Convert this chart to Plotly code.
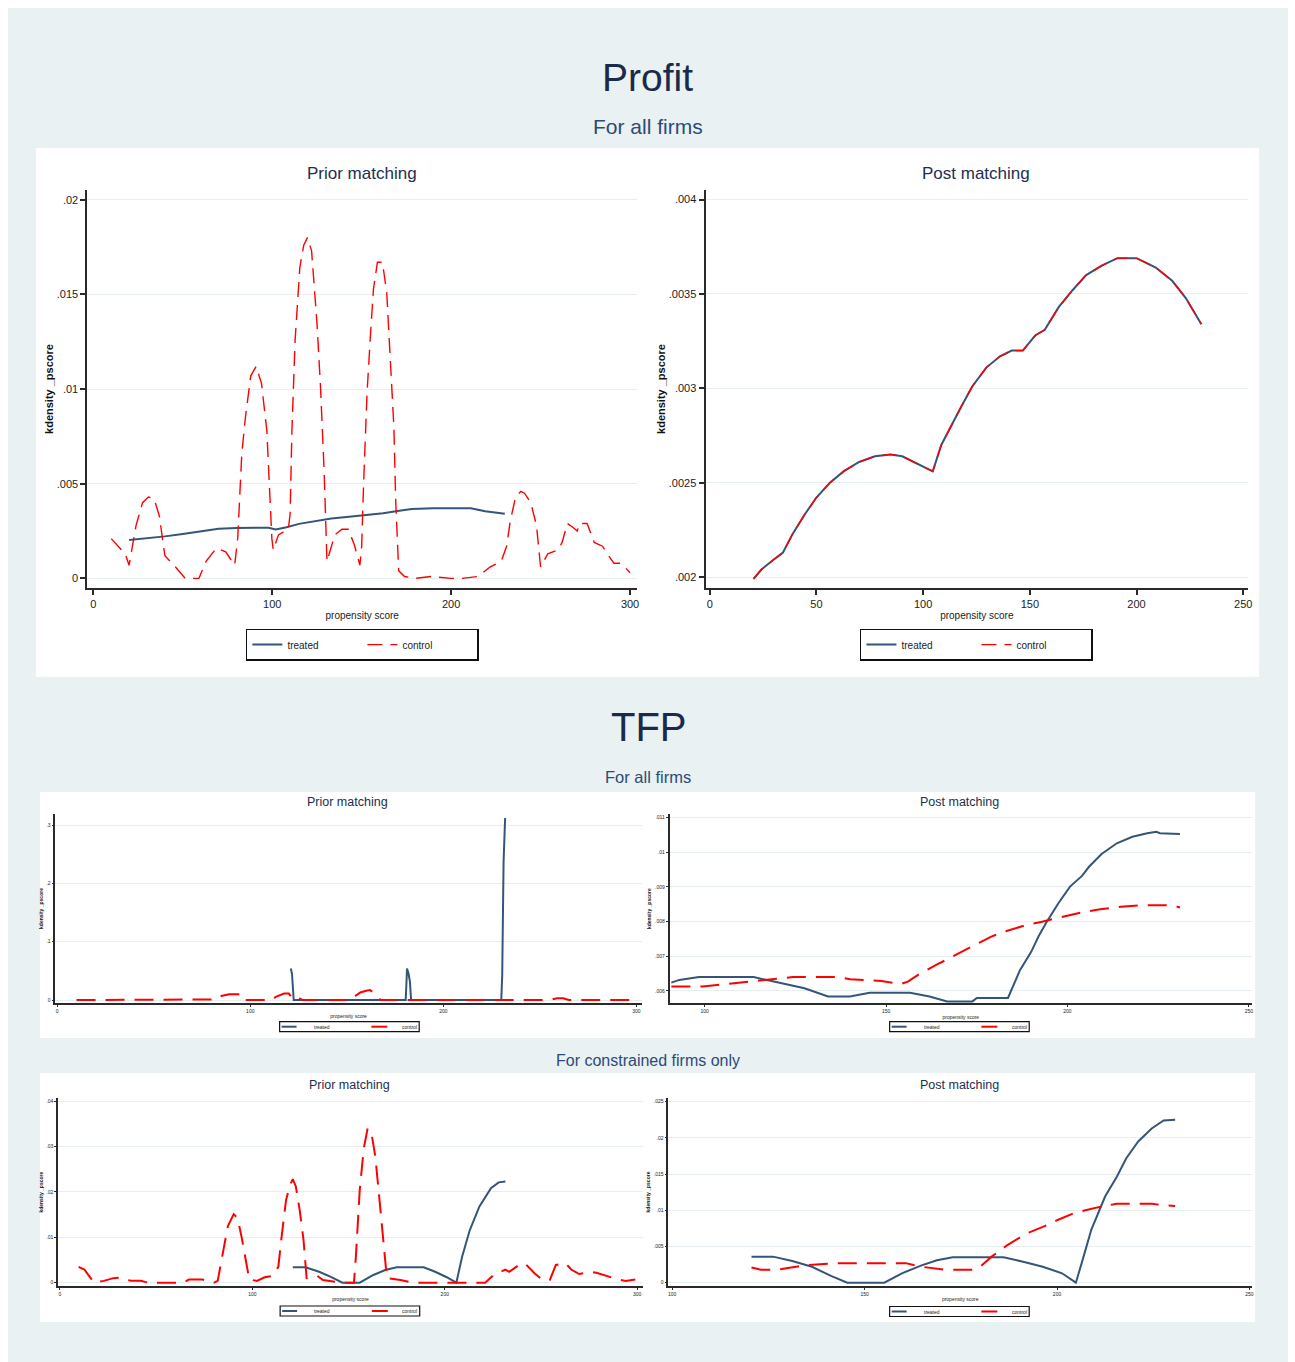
import plotly.graph_objects as go

W, H = 1295, 1362

# ---------------- data: kernel densities of the propensity score ----------------
# Profit, all firms, before matching
PROFIT_PRIOR_TREATED_X = [20, 30, 40, 50, 60, 70, 80, 90, 98, 102, 108, 115, 125, 133, 143,
                          152, 162, 170, 178, 190, 200, 211, 219, 225, 230]
PROFIT_PRIOR_TREATED_Y = [.00203, .00212, .00222, .00235, .00250, .00262, .00266, .00268, .00268,
                          .00259, .00270, .00288, .00305, .00316, .00325, .00334, .00344, .00356,
                          .00366, .00370, .00371, .00371, .00355, .00347, .00341]
PROFIT_PRIOR_CONTROL_X = [10, 17.8, 20, 23.9, 27.5, 30.8, 34, 36.9, 40, 45, 51.4, 59, 63, 68.8, 74,
                          79, 80.7, 83, 85, 88, 91, 94, 97, 98, 99.8, 100.6, 103.5, 109, 110, 111,
                          112.8, 115.4, 117.6, 119.7, 122, 125, 127, 129, 130.6, 135, 139, 142.5,
                          145.8, 149, 150, 151, 153, 155, 156.6, 158.8, 161.6, 164, 166, 168, 169,
                          170.7, 174, 180, 189, 200, 206, 215, 221.7, 228, 231, 233, 236, 239, 241,
                          244.5, 247.7, 250, 254, 259.7, 262, 265, 268, 270.5, 271.6, 276, 280,
                          284.6, 288, 291, 295, 300]
PROFIT_PRIOR_CONTROL_Y = [.0021, .0013, .0007, .0028, .0040, .0043, .0042, .0033, .0012, .0007, 0, 0,
                          .0009, .0016, .0014, .0007, .0021, .0066, .0085, .0107, .0112, .0103,
                          .0078, .0057, .0021, .0015, .0023, .0026, .0034, .0078, .0126, .0164,
                          .0176, .0180, .0173, .0135, .0101, .0057, .0009, .0023, .0026, .0026,
                          .0018, .0007, .0017, .0048, .0098, .0130, .0153, .0167, .0167, .0151,
                          .0112, .0080, .0041, .0004, .0001, 0, .0001, 0, 0, .0001, .0006, .0009,
                          .0017, .0030, .0043, .0046, .0045, .0040, .0028, .0006, .0013, .0015,
                          .0019, .0029, .0027, .0025, .0029, .0029, .0019, .0017, .0012, .0008,
                          .0008, .0003]

# Profit, all firms, after matching (matched densities coincide)
PROFIT_POST_X = [20.5, 24.2, 29.7, 34.3, 38.9, 44.4, 49.9, 56.3, 62.7, 70, 77.4, 84.7, 90.2, 97.5,
                 104.5, 108.5, 113, 117.7, 123, 129.6, 136, 141.5, 146.7, 152.5, 157, 163.5, 170,
                 176.4, 183.7, 191, 200, 209, 216.7, 223, 230.4]
PROFIT_POST_TREATED_Y = [.00199, .00204, .00209, .00213, .00223, .00233, .00242, .00250, .00256,
                         .00261, .00264, .00265, .00264, .00260, .00256, .00270, .00280, .00290,
                         .00301, .00311, .00317, .00320, .00320, .00328, .00331, .00343, .00352,
                         .00360, .00365, .00369, .00369, .00364, .00357, .00348, .00334]
PROFIT_POST_CONTROL_Y = [.00199, .00204, .00209, .00213, .00223, .00233, .00242, .00250, .00256,
                         .00261, .00264, .00265, .00264, .00260, .00256, .00270, .00280, .00290,
                         .00301, .00311, .00317, .00320, .00320, .00328, .00331, .00343, .00352,
                         .00360, .00365, .00369, .00369, .00364, .00357, .00348, .00334]

# TFP, all firms, before matching
TFP_ALL_PRIOR_TREATED_X = [121, 121.6, 122.5, 150, 180.5, 181.2, 182.0, 182.7, 183.3, 200, 230,
                           230.5, 231.2, 232]
TFP_ALL_PRIOR_TREATED_Y = [.054, .045, 0, 0, 0, .054, .045, .031, 0, 0, 0, .043, .237, .312]
TFP_ALL_PRIOR_CONTROL_X = [10, 40, 80, 82, 85, 89, 92, 96, 97.5, 105, 111, 113.5, 117.5, 120, 122,
                           125, 127, 140, 152, 154, 157, 160, 162, 165, 167.5, 200, 255, 259, 262,
                           265, 300]
TFP_ALL_PRIOR_CONTROL_Y = [0, 0, 0, .001, .007, .010, .010, .010, 0, 0, 0, .006, .011, .011, .002,
                           .004, 0, 0, 0, .006, .013, .016, .017, .010, 0, 0, 0, .003, .003, 0, 0]

# TFP, all firms, after matching
TFP_ALL_POST_TREATED_X = [90.8, 93, 98.4, 113.5, 117.8, 122, 127.5, 134, 140, 145.5, 156.6, 162,
                          166.8, 173.8, 175, 183.6, 186.9, 190, 192, 194.3, 197.5, 200.7, 204, 206,
                          209.4, 213.6, 217.9, 222, 224.5, 225.5, 231]
TFP_ALL_POST_TREATED_Y = [.00624, .00632, .00640, .00640, .00630, .00620, .00608, .00584, .00584,
                          .00595, .00595, .00584, .00570, .00570, .00580, .00580, .00660, .00713,
                          .00757, .00800, .00853, .00901, .00932, .00959, .00995, .01026, .01045,
                          .01055, .01059, .01055, .01053]
TFP_ALL_POST_CONTROL_X = [90.8, 99.4, 105.8, 112.3, 117.8, 124.3, 137, 140.1, 148.7, 154, 156,
                          159.5, 163.8, 170, 174.7, 179, 183.2, 188.6, 193, 199.3, 203.6, 209,
                          214.7, 220, 224.5, 228.8, 231]
TFP_ALL_POST_CONTROL_Y = [.00613, .00613, .00620, .00627, .00634, .00640, .00640, .00634, .00629,
                          .00620, .00627, .00651, .00675, .00709, .00733, .00757, .00773, .00790,
                          .00800, .00816, .00826, .00836, .00843, .00847, .00847, .00847, .00841]

# TFP, constrained firms, before matching
TFP_CON_PRIOR_TREATED_X = [121, 127.6, 134.7, 140.8, 146.8, 155.8, 162.9, 169, 175, 189, 195, 201,
                           206, 209, 213, 218, 224, 228, 231.5]
TFP_CON_PRIOR_TREATED_Y = [.0034, .0034, .0024, .0013, 0, 0, .0017, .0028, .0034, .0034, .0024,
                           .0012, 0, .0057, .0116, .0168, .0208, .0221, .0223]
TFP_CON_PRIOR_CONTROL_X = [9.7, 12.7, 17.7, 22.8, 27.8, 31.9, 36.9, 42, 46, 64, 67, 74, 80, 82,
                           84.3, 87.3, 90.3, 92.3, 94.4, 96.4, 98.4, 102.4, 106.4, 110.5, 113.5,
                           115, 117.5, 119.6, 121, 122.6, 124.6, 126.6, 128.2, 133.7, 136.7, 146.8,
                           152.8, 153.8, 155.8, 157.9, 159.9, 161.9, 163.9, 165.9, 167.5, 169,
                           169.9, 177, 183, 221, 225.4, 231.5, 233.5, 238.5, 241.5, 246.6, 250.6,
                           254.6, 257.7, 262.7, 265.7, 269.8, 275.8, 278.8, 281.9, 290, 294, 299]
TFP_CON_PRIOR_CONTROL_Y = [.0035, .0029, 0, .0004, .0010, .0011, .0004, .0004, 0, 0, .0007, .0007,
                           0, .0004, .0057, .0125, .0151, .0142, .0101, .0057, .0007, .0004, .0012,
                           .0015, .0035, .0094, .0182, .0215, .0228, .0212, .0160, .0094, .0010,
                           .0015, .0006, 0, 0, .0057, .0204, .0296, .0340, .0329, .0278, .0190,
                           .0116, .0039, .0010, .0006, 0, 0, .0017, .0029, .0024, .0039, .0043,
                           .0021, .0007, .0006, .0039, .0043, .0029, .0019, .0024, .0022, .0018,
                           .0007, .0004, .0007]

# TFP, constrained firms, after matching
TFP_CON_POST_TREATED_X = [120.6, 126.2, 131.2, 136.3, 141.4, 145.5, 155.1, 159.7, 164.8, 168.8,
                          172.9, 186.1, 191.2, 196.3, 201.3, 204.9, 206.9, 208.9, 212.5, 215.5,
                          218, 221.1, 224.6, 227.7, 230.7]
TFP_CON_POST_TREATED_Y = [.0036, .0036, .0030, .0022, .0009, 0, 0, .0013, .0024, .0031, .0035,
                          .0035, .0029, .0022, .0013, 0, .0036, .0073, .0119, .0146, .0172, .0195,
                          .0213, .0224, .0225]
TFP_CON_POST_CONTROL_X = [120.6, 123.1, 127.2, 130.3, 134.3, 142.4, 160.7, 164.8, 170.8, 177.9,
                          180, 183, 187.1, 192.1, 196.3, 200.3, 204.4, 207.4, 210.5, 215.5, 221.6,
                          224.6, 227.7, 230.7]
TFP_CON_POST_CONTROL_Y = [.0021, .0018, .0018, .0021, .0024, .0027, .0027, .0022, .0018, .0018,
                          .0022, .0036, .0052, .0068, .0077, .0087, .0096, .0100, .0104, .0109,
                          .0109, .0109, .0107, .0106]

# ---------------- tick labels ----------------
PROFIT_PRIOR_YTICKS = [0, .005, .01, .015, .02]
PROFIT_PRIOR_YLABELS = ["0", ".005", ".01", ".015", ".02"]
PROFIT_PRIOR_XTICKS = [0, 100, 200, 300]
PROFIT_PRIOR_XLABELS = ["0", "100", "200", "300"]
PROFIT_POST_YTICKS = [.002, .0025, .003, .0035, .004]
PROFIT_POST_YLABELS = [".002", ".0025", ".003", ".0035", ".004"]
PROFIT_POST_XTICKS = [0, 50, 100, 150, 200, 250]
PROFIT_POST_XLABELS = ["0", "50", "100", "150", "200", "250"]
TFP_ALL_PRIOR_YTICKS = [0, .1, .2, .3]
TFP_ALL_PRIOR_YLABELS = ["0", ".1", ".2", ".3"]
TFP_ALL_POST_YTICKS = [.006, .007, .008, .009, .01, .011]
TFP_ALL_POST_YLABELS = [".006", ".007", ".008", ".009", ".01", ".011"]
TFP_CON_PRIOR_YTICKS = [0, .01, .02, .03, .04]
TFP_CON_PRIOR_YLABELS = ["0", ".01", ".02", ".03", ".04"]
TFP_CON_POST_YTICKS = [0, .005, .01, .015, .02, .025]
TFP_CON_POST_YLABELS = ["0", ".005", ".01", ".015", ".02", ".025"]
TFP_PRIOR_XTICKS = [0, 100, 200, 300]
TFP_PRIOR_XLABELS = ["0", "100", "200", "300"]
TFP_POST_XTICKS = [100, 150, 200, 250]
TFP_POST_XLABELS = ["100", "150", "200", "250"]

SERIES_NAMES = ["treated", "control"]

# ---------------- styling ----------------
FONT = "Liberation Sans, Arial, sans-serif"
TREATED_COLOR = "#34557A"
CONTROL_COLOR = "#FF0000"
OUTER_BG = "#E9F1F3"
GRID = "#E6EEF2"
AXIS = "#2A2A2A"
TITLE_NAVY = "#1B2A4A"
SUB_NAVY = "#2C4A78"


def fx(px):
    return px / W


def fy(py):
    return 1 - py / H


# pixel frame of each plot area, data ranges, ticks and series
panels = [
    dict(frame=(87.7, 639, 190, 588), xr=(-3.29, 303.9), yr=(-0.000507, 0.020516),
         xt=(PROFIT_PRIOR_XTICKS, PROFIT_PRIOR_XLABELS), yt=(PROFIT_PRIOR_YTICKS, PROFIT_PRIOR_YLABELS),
         t=(PROFIT_PRIOR_TREATED_X, PROFIT_PRIOR_TREATED_Y), c=(PROFIT_PRIOR_CONTROL_X, PROFIT_PRIOR_CONTROL_Y),
         big=True, leg=(363.5, 644.6), legend="legend"),
    dict(frame=(707.7, 1252, 190, 588), xr=(-2.0, 252.3), yr=(0.001942, 0.004051),
         xt=(PROFIT_POST_XTICKS, PROFIT_POST_XLABELS), yt=(PROFIT_POST_YTICKS, PROFIT_POST_YLABELS),
         t=(PROFIT_POST_X, PROFIT_POST_TREATED_Y), c=(PROFIT_POST_X, PROFIT_POST_CONTROL_Y),
         big=True, leg=(979.5, 644.6), legend="legend2"),
    dict(frame=(55.5, 643.8, 814, 1003), xr=(-0.98, 302.8), yr=(-0.0051, 0.3189),
         xt=(TFP_PRIOR_XTICKS, TFP_PRIOR_XLABELS), yt=(TFP_ALL_PRIOR_YTICKS, TFP_ALL_PRIOR_YLABELS),
         t=(TFP_ALL_PRIOR_TREATED_X, TFP_ALL_PRIOR_TREATED_Y), c=(TFP_ALL_PRIOR_CONTROL_X, TFP_ALL_PRIOR_CONTROL_Y),
         big=False, leg=(280.5, 1021.7), legend="legend"),
    dict(frame=(671.6, 1256, 814, 1003.3), xr=(90.3, 250.9), yr=(0.005645, 0.011105),
         xt=(TFP_POST_XTICKS, TFP_POST_XLABELS), yt=(TFP_ALL_POST_YTICKS, TFP_ALL_POST_YLABELS),
         t=(TFP_ALL_POST_TREATED_X, TFP_ALL_POST_TREATED_Y), c=(TFP_ALL_POST_CONTROL_X, TFP_ALL_POST_CONTROL_Y),
         big=False, leg=(892.4, 1021.7), legend="legend"),
    dict(frame=(58.2, 645, 1098.3, 1286), xr=(-0.98, 303.0), yr=(-0.00073, 0.04062),
         xt=(TFP_PRIOR_XTICKS, TFP_PRIOR_XLABELS), yt=(TFP_CON_PRIOR_YTICKS, TFP_CON_PRIOR_YLABELS),
         t=(TFP_CON_PRIOR_TREATED_X, TFP_CON_PRIOR_TREATED_Y), c=(TFP_CON_PRIOR_CONTROL_X, TFP_CON_PRIOR_CONTROL_Y),
         big=False, leg=(281, 1306), legend="legend"),
    dict(frame=(670.4, 1256, 1098, 1286), xr=(98.99, 250.7), yr=(-0.000456, 0.02551),
         xt=(TFP_POST_XTICKS, TFP_POST_XLABELS), yt=(TFP_CON_POST_YTICKS, TFP_CON_POST_YLABELS),
         t=(TFP_CON_POST_TREATED_X, TFP_CON_POST_TREATED_Y), c=(TFP_CON_POST_CONTROL_X, TFP_CON_POST_CONTROL_Y),
         big=False, leg=(892.4, 1306.5), legend="legend"),
]

fig = go.Figure()
layout = dict(
    width=W, height=H, margin=dict(l=0, r=0, t=0, b=0),
    paper_bgcolor="white", plot_bgcolor="white", showlegend=True,
    font=dict(family=FONT, color="#222222"),
)

# graph-region backgrounds
shapes = [
    dict(type="rect", xref="paper", yref="paper", x0=fx(8), x1=fx(1292), y0=fy(1362), y1=fy(8),
         fillcolor=OUTER_BG, line=dict(width=0), layer="below"),
    dict(type="rect", xref="paper", yref="paper", x0=fx(36), x1=fx(1263), y0=fy(677), y1=fy(148),
         fillcolor="white", line=dict(width=0), layer="below"),
    dict(type="rect", xref="paper", yref="paper", x0=fx(40), x1=fx(1259), y0=fy(1038), y1=fy(792),
         fillcolor="white", line=dict(width=0), layer="below"),
    dict(type="rect", xref="paper", yref="paper", x0=fx(40), x1=fx(1259), y0=fy(1322), y1=fy(1073),
         fillcolor="white", line=dict(width=0), layer="below"),
]


def label(text, px, py, size, color, weight="normal"):
    return dict(text=text, x=fx(px), y=fy(py), xref="paper", yref="paper",
                xanchor="center", yanchor="middle", showarrow=False,
                font=dict(family=FONT, size=size, color=color, weight=weight))


annotations = [
    label("Profit", 650, 77, 39, TITLE_NAVY),
    label("For all firms", 650, 127, 21, SUB_NAVY),
    label("Prior matching", 363, 173.6, 17, "#1E2E50"),
    label("Post matching", 979.5, 173.6, 17, "#1E2E50"),
    label("TFP", 651, 727, 40, TITLE_NAVY),
    label("For all firms", 650, 777, 16.5, SUB_NAVY),
    label("Prior matching", 349, 801.7, 12.5, "#1E2E50"),
    label("Post matching", 962.6, 801.7, 12.5, "#1E2E50"),
    label("For constrained firms only", 650, 1060, 16, SUB_NAVY),
    label("Prior matching", 351, 1085, 12.5, "#1E2E50"),
    label("Post matching", 962.6, 1085, 12.5, "#1E2E50"),
]

for i, p in enumerate(panels):
    n = "" if i == 0 else str(i + 1)
    x0, x1, y0, y1 = p["frame"]
    big = p["big"]
    tick_size = 11 if big else 5
    lw_c = 1.4 if big else 2
    dash = "15px,8px" if big else "19px,10px"

    fig.add_trace(go.Scatter(
        x=p["t"][0], y=p["t"][1], mode="lines", name=SERIES_NAMES[0],
        line=dict(color=TREATED_COLOR, width=2), xaxis="x" + n, yaxis="y" + n,
        legend=p["legend"], showlegend=big, hoverinfo="skip"))
    fig.add_trace(go.Scatter(
        x=p["c"][0], y=p["c"][1], mode="lines", name=SERIES_NAMES[1],
        line=dict(color=CONTROL_COLOR, width=lw_c, dash=dash), xaxis="x" + n, yaxis="y" + n,
        legend=p["legend"], showlegend=big, hoverinfo="skip"))

    layout["xaxis" + n] = dict(
        domain=[fx(x0), fx(x1)], range=list(p["xr"]), anchor="y" + n,
        tickvals=p["xt"][0], ticktext=p["xt"][1], ticks="outside",
        ticklen=5 if big else 2, tickwidth=1.5 if big else 1, tickcolor=AXIS,
        showline=True, linecolor=AXIS, linewidth=2 if big else 1.5,
        showgrid=False, zeroline=False,
        tickfont=dict(size=tick_size, color="#222222"),
        title=dict(text="propensity score", font=dict(size=10 if big else 5, color="#222222"),
                   standoff=3 if big else 2),
    )
    layout["yaxis" + n] = dict(
        domain=[fy(y1), fy(y0)], range=list(p["yr"]), anchor="x" + n,
        tickvals=p["yt"][0], ticktext=p["yt"][1], ticks="outside",
        ticklen=5 if big else 2, tickwidth=1.5 if big else 1, tickcolor=AXIS,
        showline=True, linecolor=AXIS, linewidth=2 if big else 1.5,
        showgrid=True, gridcolor=GRID, gridwidth=1.2, zeroline=False,
        tickfont=dict(size=tick_size, color="#222222"),
        title=dict(text="kdensity _pscore",
                   font=dict(size=11 if big else 5, color="#111111", weight="bold"),
                   standoff=1 if big else 3),
    )

    if big:
        lx, ly = p["leg"]
        layout[p["legend"]] = dict(
            orientation="h", x=fx(lx), y=fy(ly), xanchor="center", yanchor="middle",
            bgcolor="white", bordercolor="#111111", borderwidth=1.5,
            font=dict(family=FONT, size=10, color="#222222"),
            entrywidth=70, entrywidthmode="pixels",
            itemwidth=30, tracegroupgap=0, traceorder="normal", visible=True,
        )
    else:
        # compact key box under the small TFP panels
        bl, bt = p["leg"]
        yc = bt + 5
        shapes += [
            dict(type="rect", xref="paper", yref="paper", x0=fx(bl), x1=fx(bl + 140),
                 y0=fy(bt + 10), y1=fy(bt), fillcolor="white",
                 line=dict(color="#111111", width=1.2)),
            dict(type="line", xref="paper", yref="paper", x0=fx(bl + 2), x1=fx(bl + 17),
                 y0=fy(yc), y1=fy(yc), line=dict(color=TREATED_COLOR, width=2)),
            dict(type="line", xref="paper", yref="paper", x0=fx(bl + 92), x1=fx(bl + 108),
                 y0=fy(yc), y1=fy(yc), line=dict(color=CONTROL_COLOR, width=2)),
        ]
        annotations += [
            label(SERIES_NAMES[0], bl + 42, yc, 5, "#222222"),
            label(SERIES_NAMES[1], bl + 130, yc, 5, "#222222"),
        ]

layout["shapes"] = shapes
layout["annotations"] = annotations
fig.update_layout(**layout)
fig.write_html("out.html")
